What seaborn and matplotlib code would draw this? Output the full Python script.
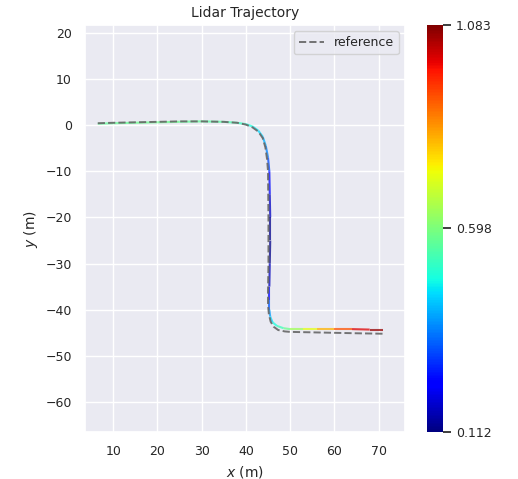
import numpy as np
import pandas as pd
import seaborn as sns
import matplotlib
matplotlib.use("Agg")
import matplotlib.pyplot as plt
from matplotlib.collections import LineCollection

# -----------------------------
# data
# -----------------------------
est_x = [6.5, 10, 15, 20, 25, 30, 35, 38, 40, 41.5, 42.8, 43.8, 44.5, 45.0, 45.3,
         45.4, 45.5, 45.5, 45.4, 45.3, 45.3, 45.3, 45.5, 46.0, 47.0, 48.5, 50,
         53, 56, 60, 64, 68, 71]
est_y = [0.3, 0.4, 0.5, 0.6, 0.7, 0.8, 0.7, 0.5, 0.2, -0.3, -1.2, -2.5, -4.5, -7,
         -10, -15, -20, -25, -30, -35, -38, -40, -41.5, -42.7, -43.5, -44.0, -44.2,
         -44.2, -44.2, -44.2, -44.2, -44.3, -44.3]
est_val = [0.56, 0.57, 0.57, 0.58, 0.57, 0.56, 0.55, 0.53, 0.50, 0.47, 0.45, 0.42,
           0.38, 0.33, 0.28, 0.20, 0.14, 0.112, 0.13, 0.20, 0.28, 0.35, 0.42, 0.46,
           0.50, 0.55, 0.60, 0.68, 0.76, 0.86, 0.96, 1.04, 1.083]

ref_x = [6.5, 10, 15, 20, 25, 30, 35, 38, 40, 41.5, 42.8, 43.8, 44.4, 44.8, 45.0,
         45.1, 45.1, 45.0, 45.0, 45.2, 45.6, 46.3, 47.3, 48.8, 50, 55, 60, 65, 71]
ref_y = [0.4, 0.5, 0.6, 0.7, 0.8, 0.8, 0.7, 0.5, 0.1, -0.5, -1.4, -2.8, -4.8, -7.5,
         -10, -20, -30, -36, -39, -41, -42.6, -43.7, -44.4, -44.7, -44.8, -44.9,
         -45.0, -45.1, -45.2]

x_ticks = [10, 20, 30, 40, 50, 60, 70]
y_ticks = [20, 10, 0, -10, -20, -30, -40, -50, -60]

# -----------------------------
# plot
# -----------------------------
sns.set_theme(style="darkgrid")
fig = plt.figure(figsize=(5.18, 4.79), dpi=100)
ax = fig.add_axes([0.164, 0.098, 0.618, 0.850])
cax = fig.add_axes([0.824, 0.098, 0.031, 0.850])

vmin, vmax = min(est_val), max(est_val)
norm = plt.Normalize(vmin, vmax)
pts = np.column_stack([est_x, est_y]).reshape(-1, 1, 2)
segs = np.concatenate([pts[:-1], pts[1:]], axis=1)
seg_val = (np.array(est_val[:-1]) + np.array(est_val[1:])) / 2
lc = LineCollection(segs, cmap="jet", norm=norm, linewidth=1.5, alpha=0.75, zorder=2)
lc.set_array(seg_val)
ax.add_collection(lc)

# reference drawn on top of the coloured track
ref = pd.DataFrame({"x": ref_x, "y": ref_y})
sns.lineplot(data=ref, x="x", y="y", sort=False, estimator=None, ax=ax,
             color="#666666", linestyle="--", linewidth=1.4, alpha=0.9,
             label="reference", zorder=3)

ax.set_xlim(3.6, 76)
ax.set_ylim(-66.5, 21.7)
ax.set_xticks(x_ticks)
ax.set_yticks(y_ticks)
ax.tick_params(labelsize=9)
ax.set_xlabel("$x$ (m)", fontsize=10)
ax.set_ylabel("$y$ (m)", fontsize=10)
ax.set_title("Lidar Trajectory", fontsize=10)
ax.legend(loc="upper right", fontsize=9)

sm = plt.cm.ScalarMappable(cmap="jet", norm=norm)
cbar = fig.colorbar(sm, cax=cax)
mid = (vmin + vmax) / 2
cbar.set_ticks([vmin, mid, vmax])
cbar.set_ticklabels([f"{v:.3f}" for v in (vmin, mid, vmax)])
cbar.ax.tick_params(labelsize=9)
cbar.outline.set_visible(False)

fig.savefig("out.png", dpi=100)
